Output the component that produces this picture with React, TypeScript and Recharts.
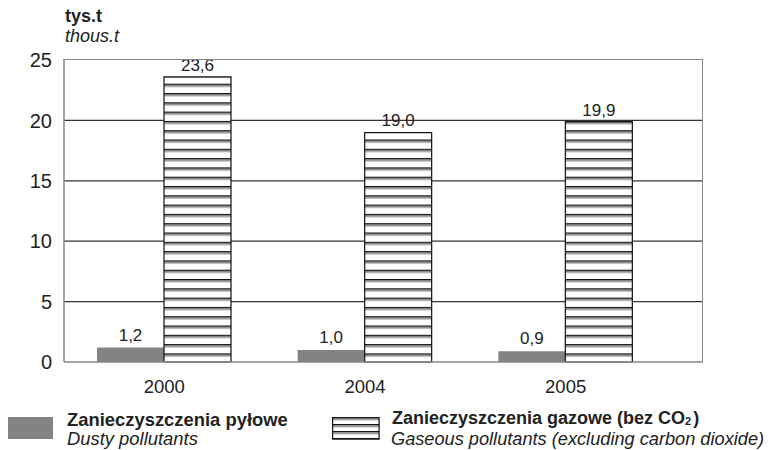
import React from 'react';
import { BarChart, Bar, XAxis, YAxis, CartesianGrid, LabelList } from 'recharts';

const years = ['2000', '2004', '2005'];
const dusty = [1.2, 1.0, 0.9];
const gaseous = [23.6, 19.0, 19.9];
const yTicks = [0, 5, 10, 15, 20, 25];

const seriesNames = {
  dusty: ['Zanieczyszczenia pyłowe', 'Dusty pollutants'],
  gaseous: ['Zanieczyszczenia gazowe (bez CO', 'Gaseous pollutants (excluding carbon dioxide)'],
};

const data = years.map((y, i) => ({ year: y, dusty: dusty[i], gaseous: gaseous[i] }));

const font = '"Liberation Sans", Arial, sans-serif';
const fmt = (v: number) => v.toFixed(1).replace('.', ',');

const Stripes: React.FC<{ id: string; h: number }> = ({ id, h }) => (
  <pattern id={id} patternUnits="userSpaceOnUse" width={10} height={h}>
    <rect x={0} y={0} width={10} height={h} fill="#fff" />
    <rect x={0} y={0} width={10} height={1.5} fill="#111" />
    <rect x={0} y={1.5} width={10} height={1.8} fill="#9a9a9a" />
  </pattern>
);

export default function App() {
  return (
    <div style={{ position: 'relative', width: 777, height: 450, margin: '-8px 0 0 -8px', fontFamily: font, background: '#fff', overflow: 'hidden' }}>
      <BarChart width={777} height={400} data={data} margin={{ top: 60, right: 74, left: 0, bottom: 0 }} barGap={0}>
        <defs>
          <Stripes id="stripes" h={9.3} />
        </defs>
        <CartesianGrid vertical={false} horizontalValues={[5, 10, 15, 20]} stroke="#333" strokeWidth={1.2} />
        <XAxis
          dataKey="year"
          height={38}
          padding={{ left: 0, right: 37 }}
          axisLine={{ stroke: '#888', strokeWidth: 1.5 }}
          tickLine={false}
          tickSize={16}
          tickMargin={2}
          tick={{ fontSize: 18.5, fill: '#222', fontFamily: font }}
        />
        <YAxis
          width={64}
          domain={[0, 25]}
          ticks={yTicks}
          axisLine={{ stroke: '#888', strokeWidth: 1.5 }}
          tickLine={false}
          tickSize={8}
          tickMargin={4}
          tick={{ fontSize: 20, fill: '#222', fontFamily: font }}
        />
        <Bar dataKey="dusty" fill="#838383" barSize={67} isAnimationActive={false}>
          <LabelList dataKey="dusty" position="top" offset={7} formatter={fmt} style={{ fontSize: 17, fill: '#222', fontFamily: font }} />
        </Bar>
        <Bar dataKey="gaseous" fill="url(#stripes)" stroke="#111" strokeWidth={1.2} barSize={67} isAnimationActive={false}>
          <LabelList dataKey="gaseous" position="top" offset={6} formatter={fmt} style={{ fontSize: 17, fill: '#222', fontFamily: font }} />
        </Bar>
      </BarChart>
      {/* plot frame */}
      <div style={{ position: 'absolute', left: 63, top: 59, width: 639, height: 302, borderTop: '1.5px solid #888', borderRight: '1.5px solid #888', pointerEvents: 'none' }} />

      <div style={{ position: 'absolute', left: 65, top: 6, fontSize: 18, fontWeight: 'bold', color: '#222' }}>tys.t</div>
      <div style={{ position: 'absolute', left: 65, top: 26, fontSize: 18, fontStyle: 'italic', color: '#222' }}>thous.t</div>

      {/* legend */}
      <div style={{ position: 'absolute', left: 7, top: 417, width: 46, height: 22, background: '#838383' }} />
      <div style={{ position: 'absolute', left: 67, top: 410, fontSize: 18.4, fontWeight: 'bold', color: '#222', whiteSpace: 'nowrap', lineHeight: '20px' }}>{seriesNames.dusty[0]}</div>
      <div style={{ position: 'absolute', left: 67, top: 429, fontSize: 18.4, fontStyle: 'italic', color: '#222', whiteSpace: 'nowrap', lineHeight: '20px' }}>{seriesNames.dusty[1]}</div>

      <svg style={{ position: 'absolute', left: 332, top: 417 }} width={48} height={23}>
        <defs>
          <Stripes id="legStripes" h={7} />
        </defs>
        <rect x={0.6} y={0.6} width={46.5} height={21.5} fill="url(#legStripes)" stroke="#111" strokeWidth={1.2} />
      </svg>
      <div style={{ position: 'absolute', left: 392, top: 408, fontSize: 18, fontWeight: 'bold', color: '#222', whiteSpace: 'nowrap', lineHeight: '20px' }}>
        {seriesNames.gaseous[0]}
        <span style={{ fontSize: 11, position: 'relative', top: 1, lineHeight: '10px' }}>2</span>
        <span style={{ marginLeft: 2 }}>)</span>
      </div>
      <div style={{ position: 'absolute', left: 391, top: 429, fontSize: 18.2, fontStyle: 'italic', color: '#222', whiteSpace: 'nowrap', lineHeight: '20px' }}>{seriesNames.gaseous[1]}</div>
    </div>
  );
}
